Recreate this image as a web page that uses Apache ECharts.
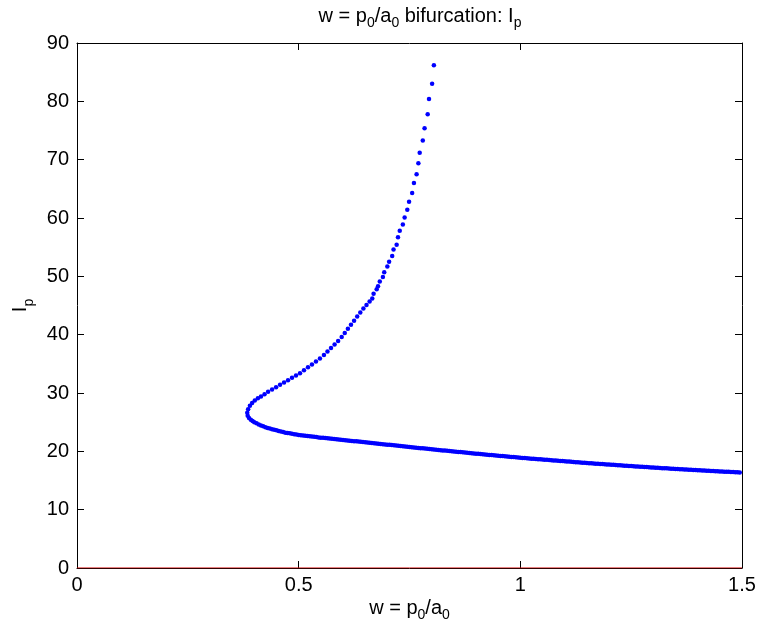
<!DOCTYPE html>
<html>
<head>
<meta charset="utf-8">
<script src="https://cdn.jsdelivr.net/npm/echarts@6/dist/echarts.min.js"></script>
<style>
html,body{margin:0;padding:0;background:#fff;}
#chart{width:759px;height:629px;}
</style>
</head>
<body>
<div id="chart"></div>
<script>
// Upper branch (sparse dots), w and I_p
var upperW = [0.384,0.386,0.390,0.395,0.401,0.408,0.415,0.423,0.431,0.440,0.449,0.458,0.467,0.476,0.485,0.494,0.503,0.512,0.521,0.530,0.539,0.548,0.557,0.565,0.573,0.581,0.589,0.597,0.604,0.611,0.618,0.625,0.632,0.639,0.646,0.653,0.660,0.666,0.669,0.676,0.679,0.683,0.690,0.693,0.700,0.704,0.711,0.714,0.721,0.724,0.728,0.735,0.739,0.745,0.749,0.756,0.760,0.766,0.770,0.773,0.780,0.784,0.791,0.794,0.801,0.805];
var upperI = [26.6,27.2,27.8,28.3,28.7,29.1,29.4,29.8,30.2,30.6,31.0,31.4,31.8,32.2,32.6,33.0,33.4,33.9,34.4,34.9,35.4,35.9,36.5,37.1,37.7,38.3,38.9,39.6,40.3,41.0,41.7,42.4,43.1,43.8,44.5,45.1,45.7,46.2,47.0,47.8,48.3,49.1,49.9,50.7,51.7,52.5,53.5,54.6,55.4,56.7,57.8,58.9,60.1,61.4,62.8,64.3,66.0,67.5,69.4,71.2,73.3,75.4,77.8,80.4,83.0,86.2];

// Lower branch (dense dots)
var lowerW = [0.385,0.388,0.392,0.396,0.40,0.405,0.41,0.415,0.42,0.425,0.43,0.435,0.44,0.445,0.45,0.455,0.46,0.465,0.47,0.475,0.48,0.485,0.49,0.495,0.50,0.505,0.51,0.515,0.52,0.525,0.53,0.535,0.54,0.545,0.55,0.555,0.56,0.565,0.57,0.575,0.58,0.585,0.59,0.595,0.60,0.605,0.61,0.615,0.62,0.625,0.63,0.635,0.64,0.645,0.65,0.655,0.66,0.665,0.67,0.675,0.68,0.685,0.69,0.695,0.70,0.705,0.71,0.715,0.72,0.725,0.73,0.735,0.74,0.745,0.75,0.755,0.76,0.765,0.77,0.775,0.78,0.785,0.79,0.795,0.80,0.805,0.81,0.815,0.82,0.825,0.83,0.835,0.84,0.845,0.85,0.855,0.86,0.865,0.87,0.875,0.88,0.885,0.89,0.895,0.90,0.905,0.91,0.915,0.92,0.925,0.93,0.935,0.94,0.945,0.95,0.955,0.96,0.965,0.97,0.975,0.98,0.985,0.99,0.995,1.00,1.005,1.01,1.015,1.02,1.025,1.03,1.035,1.04,1.045,1.05,1.055,1.06,1.065,1.07,1.075,1.08,1.085,1.09,1.095,1.10,1.105,1.11,1.115,1.12,1.125,1.13,1.135,1.14,1.145,1.15,1.155,1.16,1.165,1.17,1.175,1.18,1.185,1.19,1.195,1.20,1.205,1.21,1.215,1.22,1.225,1.23,1.235,1.24,1.245,1.25,1.255,1.26,1.265,1.27,1.275,1.28,1.285,1.29,1.295,1.30,1.305,1.31,1.315,1.32,1.325,1.33,1.335,1.34,1.345,1.35,1.355,1.36,1.365,1.37,1.375,1.38,1.385,1.39,1.395,1.40,1.405,1.41,1.415,1.42,1.425,1.43,1.435,1.44,1.445,1.45,1.455,1.46,1.465,1.47,1.475,1.48,1.485,1.49,1.495,1.50];
var lowerI = [26.1,25.7,25.4,25.2,25.0,24.8,24.6,24.45,24.3,24.15,24.0,23.9,23.8,23.7,23.6,23.5,23.4,23.3,23.2,23.15,23.1,23.0,22.95,22.88,22.8,22.75,22.71,22.66,22.62,22.57,22.53,22.48,22.44,22.39,22.35,22.31,22.27,22.23,22.19,22.15,22.11,22.07,22.03,21.99,21.95,21.91,21.87,21.83,21.79,21.75,21.71,21.67,21.63,21.59,21.55,21.51,21.47,21.43,21.39,21.35,21.31,21.27,21.23,21.19,21.15,21.11,21.07,21.03,20.99,20.95,20.91,20.87,20.83,20.79,20.75,20.71,20.67,20.63,20.59,20.55,20.51,20.47,20.43,20.39,20.35,20.31,20.27,20.24,20.20,20.16,20.13,20.09,20.05,20.02,19.98,19.94,19.90,19.87,19.83,19.79,19.75,19.71,19.68,19.64,19.60,19.57,19.53,19.50,19.46,19.43,19.39,19.36,19.32,19.29,19.25,19.22,19.18,19.15,19.11,19.08,19.04,19.01,18.97,18.94,18.90,18.87,18.84,18.81,18.78,18.75,18.72,18.69,18.66,18.63,18.60,18.57,18.54,18.51,18.48,18.45,18.42,18.39,18.36,18.33,18.30,18.27,18.24,18.21,18.18,18.15,18.12,18.09,18.06,18.03,18.00,17.97,17.95,17.92,17.89,17.87,17.84,17.81,17.78,17.76,17.73,17.70,17.68,17.65,17.62,17.60,17.57,17.55,17.52,17.50,17.47,17.45,17.42,17.40,17.37,17.35,17.32,17.30,17.27,17.25,17.22,17.20,17.17,17.15,17.12,17.10,17.08,17.05,17.03,17.00,16.98,16.96,16.94,16.91,16.89,16.87,16.85,16.83,16.80,16.78,16.76,16.74,16.72,16.70,16.68,16.66,16.64,16.62,16.60,16.58,16.56,16.54,16.52,16.50,16.48,16.46,16.44,16.42,16.40,16.38];

// Red zero line
var zeroW = [0, 1.5];
var zeroI = [0, 0];

function pairs(xs, ys){ var r=[]; for(var i=0;i<xs.length;i++) r.push([xs[i], ys[i]]); return r; }

var FONT = 'Liberation Sans';
var chart = echarts.init(document.getElementById('chart'), null, {renderer:'canvas'});

var axisCommon = {
  type:'value',
  axisLine:{show:true, onZero:false, lineStyle:{color:'#000', width:1}},
  axisTick:{show:true, inside:true, length:7, lineStyle:{color:'#000', width:1}},
  splitLine:{show:false}
};

function richStyles(main, sub, pad){
  return {
    n:{fontFamily:FONT, fontSize:main, fontWeight:'normal', color:'#000', lineHeight:20},
    s:{fontFamily:FONT, fontSize:sub, fontWeight:'normal', color:'#000', lineHeight:20, padding:[pad,0,0,0]}
  };
}

var option = {
  backgroundColor:'#fff',
  animation:false,
  title:{
    text:'{n|w = p}{s|0}{n|/a}{s|0}{n| bifurcation: I}{s|p}',
    left:415, top:1, textAlign:'center',
    textStyle:{ fontWeight:'normal', rich: richStyles(20, 14, 14) }
  },
  grid:{left:77, right:17, top:43, bottom:61, containLabel:false, outerBoundsMode:'none'},
  xAxis:[
    Object.assign({}, axisCommon, {
      position:'bottom', min:0, max:1.5, interval:0.5,
      axisLabel:{color:'#000', fontFamily:FONT, fontSize:20, margin:7},
      name:'{n|w = p}{s|0}{n|/a}{s|0}',
      nameLocation:'middle', nameGap:30, nameMoveOverlap:false,
      nameTextStyle:{ rich: richStyles(20, 14, 14) }
    }),
    Object.assign({}, axisCommon, {
      position:'top', min:0, max:1.5, interval:0.5,
      axisLabel:{show:false}
    })
  ],
  yAxis:[
    Object.assign({}, axisCommon, {
      position:'left', min:0, max:90, interval:10,
      axisLabel:{color:'#000', fontFamily:FONT, fontSize:20, margin:8},
      name:'{n|I}{s|p}',
      nameLocation:'middle', nameGap:47, nameRotate:90, nameMoveOverlap:false,
      nameTextStyle:{ rich: richStyles(20, 14, 18) }
    }),
    Object.assign({}, axisCommon, {
      position:'right', min:0, max:90, interval:10,
      axisLabel:{show:false}
    })
  ],
  series:[
    {
      type:'line', data:pairs(zeroW, zeroI), xAxisIndex:0, yAxisIndex:0,
      showSymbol:false, symbol:'none', lineStyle:{color:'#d00000', width:1}, z:5, silent:true
    },
    {
      type:'scatter', data:pairs(lowerW, lowerI), xAxisIndex:0, yAxisIndex:0,
      symbol:'circle', symbolSize:4.5, itemStyle:{color:'#0000ff', opacity:1}, z:3
    },
    {
      type:'scatter', data:pairs(upperW, upperI), xAxisIndex:0, yAxisIndex:0,
      symbol:'circle', symbolSize:4.5, itemStyle:{color:'#0000ff', opacity:1}, z:3
    }
  ]
};
chart.setOption(option);
</script>
</body>
</html>
